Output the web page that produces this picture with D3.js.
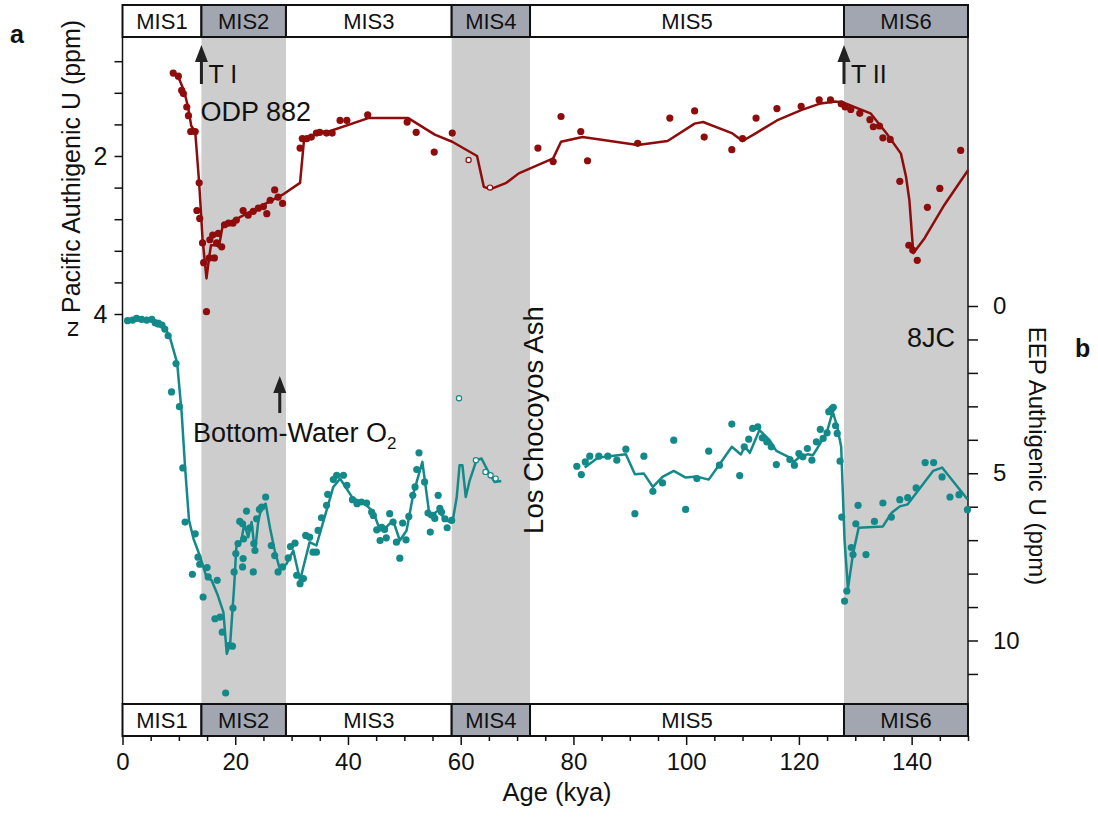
<!DOCTYPE html>
<html>
<head>
<meta charset="utf-8">
<script src="https://cdn.jsdelivr.net/npm/d3@7"></script>
<style>
  body { margin: 0; background: #fff; }
  text { font-family: "Liberation Sans", Arial, sans-serif; }
</style>
</head>
<body>
<div id="chart"></div>
<script>
// Authigenic U records: ODP 882 (N Pacific, red) and 8JC (EEP, teal)

// MIS stages [start kya, end kya, label, glacial?]
const misStages = [
    [0, 14, "MIS1", false],
    [14, 29, "MIS2", true],
    [29, 58.4, "MIS3", false],
    [58.4, 72.3, "MIS4", true],
    [72.3, 128, "MIS5", false],
    [128, 150, "MIS6", true]
];

// ODP 882 points (age kya, ppm)
const odpPoints = [
    [9.0,0.95],[9.9,0.99],[10.5,1.17],[10.8,1.21],[11.4,1.38],[11.7,1.49],[12.1,1.69],[12.9,1.69],
    [13.6,2.34],[13.2,2.69],[13.7,2.79],[14.2,3.10],[14.4,3.35],[14.9,3.97],[15.4,3.29],[16.3,3.29],
    [15.5,3.06],[16.0,3.0],[17.0,2.98],[16.7,3.1],[17.6,3.15],[18.1,2.87],[18.8,2.85],[19.6,2.85],
    [20.2,2.81],[21.4,2.69],[22.3,2.75],[23.2,2.70],[24.1,2.66],[25.0,2.64],[25.6,2.73],[26.2,2.56],
    [27.0,2.43],[27.6,2.52],[28.4,2.60],[31.5,1.90],[31.9,1.78],[32.7,1.78],[33.5,1.76],[34.4,1.71],
    [35.0,1.70],[36.2,1.71],[37.2,1.71],[38.6,1.55],[39.8,1.55],[43.5,1.48],[50.5,1.57],[52.1,1.70],
    [55.3,1.95],[58.5,1.71],[73.7,1.90],[76.4,2.07],[77.8,1.50],[81.3,1.69],[82.5,2.06],[91.4,1.84],
    [97.1,1.52],[101.5,1.43],[103.2,1.76],[108.1,1.92],[110.0,1.78],[112.4,1.52],[116.1,1.40],[120.4,1.37],
    [123.6,1.29],[125.6,1.29],[127.5,1.34],[128.2,1.38],[129.2,1.41],[130.8,1.46],[132.6,1.54],[133.2,1.63],
    [134.3,1.62],[134.9,1.77],[136.2,1.79],[137.9,2.32],[139.5,3.13],[140.2,3.19],[141.0,3.32],[142.8,2.65],
    [145.0,2.41],[148.7,1.93]
];
const odpOpen = [[61.4,2.05],[65.2,2.40]];

// ODP 882 smoothed curve
const odpLine = [
    [9.0,0.95],[9.9,1.0],[10.9,1.17],[11.6,1.37],[12.2,1.62],[12.9,1.69],[13.6,2.34],[14.2,3.05],
    [14.9,3.55],[15.4,3.27],[15.7,3.13],[16.6,3.13],[17.1,3.15],[17.8,2.87],[19.6,2.82],[28.4,2.49],
    [31.5,2.34],[32.2,1.80],[35.0,1.69],[36.6,1.69],[43.6,1.52],[50.7,1.52],[55.4,1.73],[58.5,1.82],
    [62.9,2.0],[64.1,2.39],[65.3,2.42],[68.1,2.34],[70.3,2.22],[75.8,2.05],[76.4,2.03],[77.8,1.82],
    [81.6,1.76],[91.4,1.86],[96.7,1.81],[101.5,1.59],[103.0,1.57],[108.1,1.71],[110.0,1.81],[112.4,1.71],
    [116.1,1.55],[120.4,1.42],[123.6,1.34],[126.4,1.31],[127.7,1.32],[132.7,1.46],[135.5,1.71],[138.1,1.97],
    [139.0,2.26],[139.6,2.56],[140.3,3.23],[142.3,3.04],[145.8,2.62],[150,2.18]
];

// 8JC points (age kya, ppm)
const jcPoints = [
    [0.9,0.44],[1.8,0.42],[2.5,0.37],[3.4,0.40],[4.3,0.42],[5.2,0.40],[5.8,0.50],[6.3,0.54],
    [7.0,0.57],[7.5,0.69],[8.1,0.89],[9.5,1.72],[8.7,2.57],[10.1,3.01],[10.7,4.84],[11.1,6.46],
    [12.9,6.81],[12.4,8.02],[13.4,7.51],[13.7,7.72],[14.3,8.70],[15.0,7.82],[15.2,8.10],[16.8,8.20],
    [16.4,9.35],[17.3,9.30],[17.7,9.75],[18.3,11.57],[18.8,10.15],[19.5,10.17],[19.6,9.03],[19.8,7.95],
    [20.1,7.40],[20.5,7.10],[21.3,7.80],[21.4,7.55],[20.8,6.44],[21.3,6.51],[21.5,6.96],[22.0,6.13],
    [22.6,6.63],[23.2,7.95],[23.3,7.10],[23.5,7.31],[23.8,6.36],[24.3,6.08],[24.7,6.01],[25.4,5.71],
    [26.4,7.16],[27.0,7.46],[27.6,7.95],[28.4,7.80],[29.4,7.53],[29.8,7.19],[30.6,7.09],[30.9,8.05],
    [31.5,8.30],[32.1,8.15],[32.5,6.86],[33.2,6.91],[33.8,7.36],[34.4,7.36],[34.7,6.71],[35.3,6.33],
    [36.2,5.96],[36.4,5.63],[37.4,5.19],[38.0,5.06],[39.2,5.06],[39.8,5.36],[40.8,5.79],[41.6,5.91],
    [42.4,5.86],[43.3,5.89],[44.2,6.16],[44.5,6.26],[45.1,6.69],[45.7,7.01],[46.0,6.62],[46.5,6.68],
    [46.8,6.93],[47.4,6.21],[48.0,6.46],[48.6,7.06],[49.2,7.54],[49.7,6.49],[50.3,6.99],[50.8,6.29],
    [51.5,5.66],[51.9,5.41],[52.2,4.89],[52.6,4.39],[53.6,5.26],[54.2,6.19],[54.6,6.76],[55.1,6.26],
    [55.4,6.35],[56.0,5.66],[56.3,6.05],[56.6,6.16],[57.2,6.36],[57.6,6.63],[58.4,6.41],
    [80.6,4.79],[81.4,5.04],[82.1,4.66],[82.9,4.49],[84.5,4.49],[86.1,4.49],[87.7,4.61],[89.3,4.28],
    [90.9,6.21],[92.5,4.49],[94.1,5.54],[95.8,5.29],[97.8,4.01],[99.9,6.08],[101.9,5.16],[104.0,4.34],
    [105.9,4.76],[108.1,3.53],[109.5,5.07],[110.3,4.21],[111.1,3.98],[111.8,3.66],[112.7,3.61],[113.5,3.94],
    [114.3,4.06],[115.1,4.21],[116.0,4.74],[118.4,4.59],[119.2,4.76],[120.0,4.41],[120.7,4.51],[121.5,4.26],
    [122.3,4.61],[123.1,4.06],[123.8,3.69],[124.3,3.96],[125.0,3.79],[125.3,3.16],[125.8,3.08],[126.1,3.03],
    [126.5,3.58],[126.8,3.81],[127.3,4.64],[127.6,6.31],[128.1,8.82],[128.5,8.52],[129.3,7.22],[129.6,7.43],
    [130.1,6.51],[130.5,5.96],[131.9,7.43],[133.4,6.44],[134.9,5.89],[136.4,6.31],[137.9,5.79],[139.3,5.73],
    [140.8,5.44],[142.4,4.68],[143.9,4.68],[145.4,5.11],[146.8,5.71],[148.4,5.64],[149.9,6.09]
];
const jcOpen = [[59.7,2.76],[62.7,4.61],[64.4,4.96],[65.3,5.06],[66.2,5.16]];

// 8JC smoothed curve (null = gap in record)
const jcLine = [
    [0.6,0.42],[6.6,0.45],[7.5,0.63],[8.4,0.93],[9.7,1.71],[10.5,3.2],[10.8,4.01],[11.1,4.82],
    [11.8,6.41],[12.6,6.96],[13.7,7.46],[14.9,8.10],[15.8,8.20],[16.8,8.60],[17.9,9.15],[18.5,10.40],
    [19.1,10.10],[19.8,8.40],[20.2,7.21],[21.1,7.01],[21.6,6.5],[22.3,6.91],[22.9,6.46],[23.5,7.36],
    [24.1,6.41],[24.7,6.01],[25.4,5.91],[26.2,6.66],[27.0,7.31],[27.9,7.86],[29.1,7.71],[30.3,7.31],
    [31.5,8.20],[33.2,7.06],[34.4,7.16],[37.4,5.41],[38.6,5.16],[40.9,5.76],[42.7,5.86],[44.5,6.16],
    [45.7,6.71],[46.8,6.61],[48.0,6.41],[49.2,7.01],[50.4,6.71],[51.6,5.61],[53.2,4.66],[54.5,6.31],
    [56.0,6.11],[56.9,6.31],[57.8,6.44],[58.7,6.31],[59.3,5.71],[59.8,4.76],[60.3,4.76],[60.9,5.71],
    [61.6,5.21],[62.8,4.61],[63.7,4.56],[64.9,4.96],[66.0,5.26],[67.2,5.23],
    null,
    [82.0,4.83],[84.4,4.53],[86.1,4.5],[89.3,4.43],[90.9,5.03],[92.5,5.01],[94.1,5.41],[95.8,5.11],
    [97.8,4.93],[99.9,5.13],[101.9,5.1],[104.0,5.19],[105.9,4.74],[108.1,4.21],[109.7,4.44],[110.4,4.2],
    [111.3,4.39],[113.0,3.71],[114.8,4.01],[116.0,4.33],[118.4,4.53],[119.1,4.66],[120.0,4.53],[121.6,4.43],
    [122.5,4.46],[124.9,3.81],[126.0,3.16],[126.8,3.61],[127.5,4.21],[128.1,7.01],[128.7,8.45],[129.6,7.41],
    [130.6,6.63],[134.9,6.59],[136.4,6.19],[137.9,5.99],[139.3,5.93],[143.8,4.93],[145.4,4.83],[149.9,5.78]
];

// axis ticks
const ageTicks = d3.range(0, 151, 5);
const ageLabels = [0, 20, 40, 60, 80, 100, 120, 140];
const leftTicks = [0.8, 1.2, 1.6, 2.0, 2.4, 2.8, 3.2, 3.6, 4.0];
const leftLabels = [2, 4];
const rightTicks = d3.range(0, 12, 1);
const rightLabels = [0, 5, 10];

// colours
const red = "#8e0c0c";
const teal = "#13898a";
const bandGray = "#cdcdcd";
const misGray = "#a2a6b0";

const width = 1098, height = 817;
const plot = {left: 122.5, right: 968, top: 37, bottom: 704};
const barH = 32;

const svg = d3.select("#chart").append("svg")
    .attr("width", width)
    .attr("height", height);

// scales
const x = d3.scaleLinear().domain([0, 150]).range([plot.left, plot.right]);
const yL = d3.scaleLinear().domain([2, 4]).range([156, 314]);   // ppm increases downward
const yR = d3.scaleLinear().domain([0, 10]).range([306, 640.5]);

// glacial gray bands
svg.selectAll("rect.band")
    .data(misStages.filter(d => d[3]))
    .enter().append("rect")
    .attr("x", d => x(d[0]))
    .attr("y", plot.top)
    .attr("width", d => x(d[1]) - x(d[0]))
    .attr("height", plot.bottom - plot.top)
    .attr("fill", bandGray);

// MIS bars top and bottom
[plot.top - barH, plot.bottom].forEach(function(y0) {
    const g = svg.append("g");
    g.selectAll("rect")
        .data(misStages)
        .enter().append("rect")
        .attr("x", d => x(d[0]))
        .attr("y", y0)
        .attr("width", d => x(d[1]) - x(d[0]))
        .attr("height", barH)
        .attr("fill", d => d[3] ? misGray : "#fff")
        .attr("stroke", "#111")
        .attr("stroke-width", 2);
    g.selectAll("text")
        .data(misStages)
        .enter().append("text")
        .attr("x", d => (x(d[0]) + x(d[1])) / 2)
        .attr("y", y0 + barH / 2 + 8)
        .attr("text-anchor", "middle")
        .attr("font-size", 22)
        .attr("fill", "#111")
        .text(d => d[2]);
});

// plot frame sides
svg.append("line").attr("x1", plot.left).attr("x2", plot.left)
    .attr("y1", plot.top).attr("y2", plot.bottom).attr("stroke", "#111").attr("stroke-width", 1.5);
svg.append("line").attr("x1", plot.right).attr("x2", plot.right)
    .attr("y1", plot.top).attr("y2", plot.bottom).attr("stroke", "#111").attr("stroke-width", 1.5);

// bottom axis
const xAxis = svg.append("g")
    .attr("transform", "translate(0," + (plot.bottom + barH) + ")")
    .call(d3.axisBottom(x).tickValues(ageTicks)
        .tickSize(5)
        .tickFormat(d => ageLabels.includes(d) ? d : ""));
xAxis.select(".domain").remove();
xAxis.selectAll(".tick line")
    .attr("stroke", "#111").attr("stroke-width", 1.5)
    .attr("y2", d => ageLabels.includes(d) ? 9 : 5);
xAxis.selectAll(".tick text")
    .attr("font-size", 24).attr("fill", "#111").attr("y", 17)
    .attr("dy", "0.71em")
    .style("font-family", "Liberation Sans, Arial, sans-serif");

// left axis
const leftAxis = svg.append("g")
    .attr("transform", "translate(" + plot.left + ",0)")
    .call(d3.axisLeft(yL).tickValues(leftTicks).tickSize(8)
        .tickFormat(d => leftLabels.includes(d) ? d : ""));
leftAxis.select(".domain").remove();
leftAxis.selectAll(".tick line").attr("stroke", "#111").attr("stroke-width", 1.5);
leftAxis.selectAll(".tick text")
    .attr("font-size", 25).attr("fill", "#111").attr("x", -15)
    .style("font-family", "Liberation Sans, Arial, sans-serif");

// right axis
const rightAxis = svg.append("g")
    .attr("transform", "translate(" + plot.right + ",0)")
    .call(d3.axisRight(yR).tickValues(rightTicks).tickSize(10)
        .tickFormat(d => rightLabels.includes(d) ? d : ""));
rightAxis.select(".domain").remove();
rightAxis.selectAll(".tick line").attr("stroke", "#111").attr("stroke-width", 1.5);
rightAxis.selectAll(".tick text")
    .attr("font-size", 24).attr("fill", "#111").attr("x", 25)
    .style("font-family", "Liberation Sans, Arial, sans-serif");

// curves
const lineL = d3.line().defined(d => d !== null).x(d => x(d[0])).y(d => yL(d[1]));
const lineR = d3.line().defined(d => d !== null).x(d => x(d[0])).y(d => yR(d[1]));

svg.append("path").datum(odpLine)
    .attr("d", lineL).attr("fill", "none")
    .attr("stroke", red).attr("stroke-width", 2.5).attr("stroke-linejoin", "round");
svg.append("path").datum(jcLine)
    .attr("d", lineR).attr("fill", "none")
    .attr("stroke", teal).attr("stroke-width", 2.5).attr("stroke-linejoin", "round");

// points
svg.selectAll("circle.odp").data(odpPoints).enter().append("circle")
    .attr("cx", d => x(d[0])).attr("cy", d => yL(d[1])).attr("r", 3.6).attr("fill", red);
svg.selectAll("circle.odpo").data(odpOpen).enter().append("circle")
    .attr("cx", d => x(d[0])).attr("cy", d => yL(d[1])).attr("r", 2.6)
    .attr("fill", "#fff").attr("stroke", red).attr("stroke-width", 1.2);
svg.selectAll("circle.jc").data(jcPoints).enter().append("circle")
    .attr("cx", d => x(d[0])).attr("cy", d => yR(d[1])).attr("r", 3.6).attr("fill", teal);
svg.selectAll("circle.jco").data(jcOpen).enter().append("circle")
    .attr("cx", d => x(d[0])).attr("cy", d => yR(d[1])).attr("r", 2.6)
    .attr("fill", "#fff").attr("stroke", teal).attr("stroke-width", 1.2);

// arrows
function arrow(age, yTip, yEnd) {
    const cx = x(age);
    svg.append("line").attr("x1", cx).attr("x2", cx)
        .attr("y1", yTip + 14).attr("y2", yEnd)
        .attr("stroke", "#222").attr("stroke-width", 3);
    svg.append("path")
        .attr("d", "M" + cx + "," + yTip + " L" + (cx - 6.5) + "," + (yTip + 17) + " L" + (cx + 6.5) + "," + (yTip + 17) + " Z")
        .attr("fill", "#222");
}
arrow(14, 45, 84);
arrow(128, 45, 84);
arrow(27.9, 376, 413);

function label(txt, xx, yy, size, opts) {
    const t = svg.append("text").attr("x", xx).attr("y", yy)
        .attr("font-size", size).attr("fill", "#111").text(txt);
    if (opts) Object.keys(opts).forEach(k => t.attr(k, opts[k]));
    return t;
}

label("T I", x(14) + 7, 83, 25);
label("T II", x(128) + 7, 83, 25);
label("ODP 882", x(14) - 1, 121, 27);
label("8JC", 907, 347, 27);

const bw = label("Bottom-Water O", 193, 442, 27);
bw.append("tspan").attr("font-size", 17).attr("dy", 7).text("2");

label("Los Chocoyos Ash", 0, 0, 27.5, {"text-anchor": "middle", "transform": "translate(543,420) rotate(-90)"});

// axis titles
label("Pacific Authigenic U (ppm)", 0, 0, 25, {"transform": "translate(80,313) rotate(-90)"});
label("N", 0, 0, 25, {"transform": "translate(78,338) rotate(-90) scale(1,0.58)"});
label("EEP Authigenic U (ppm)", 0, 0, 24, {"text-anchor": "middle", "transform": "translate(1029,456) rotate(90)"});
label("Age (kya)", 557, 801, 25.5, {"text-anchor": "middle"});

// panel letters
label("a", 10, 43, 25, {"font-weight": "bold"});
label("b", 1075, 357, 25, {"font-weight": "bold"});
</script>
</body>
</html>
